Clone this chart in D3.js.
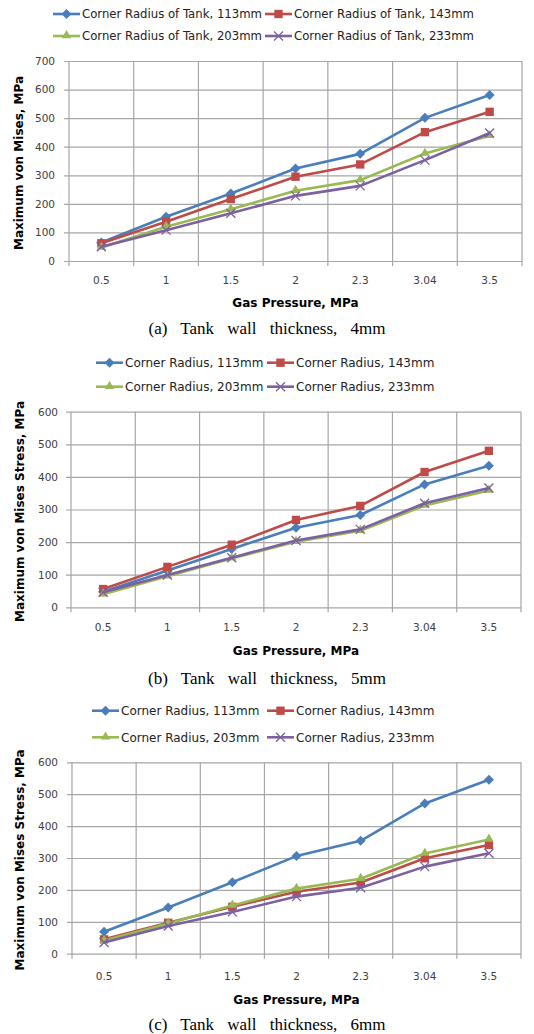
<!DOCTYPE html>
<html>
<head>
<meta charset="utf-8">
<script src="https://cdn.jsdelivr.net/npm/d3@7"></script>
<style>
body { margin: 0; background: #fff; }
svg { display: block; }
</style>
</head>
<body>
<svg></svg>
<script>
// categories
let pressures = ['0.5', '1', '1.5', '2', '2.3', '3.04', '3.5']

// (a) wall 4mm
let t4_r113 = [65, 155, 236, 324, 375, 501, 581]
let t4_r143 = [62, 137, 217, 295, 338, 451, 522]
let t4_r203 = [47, 120, 181, 246, 283, 376, 438]
let t4_r233 = [50, 108, 167, 228, 263, 353, 448]

// (b) wall 5mm
let t5_r113 = [48, 113, 179, 244, 283, 377, 434]
let t5_r143 = [56, 124, 192, 268, 311, 415, 480]
let t5_r203 = [40, 95, 150, 201, 235, 312, 358]
let t5_r233 = [46, 99, 152, 205, 239, 319, 366]

// (c) wall 6mm
let t6_r113 = [69, 145, 224, 306, 354, 471, 545]
let t6_r143 = [45, 97, 147, 194, 223, 299, 341]
let t6_r203 = [41, 95, 151, 204, 235, 314, 358]
let t6_r233 = [35, 87, 131, 179, 207, 273, 315]

let legendA = ['Corner Radius of Tank, 113mm', 'Corner Radius of Tank, 143mm', 'Corner Radius of Tank, 203mm', 'Corner Radius of Tank, 233mm']
let legendBC = ['Corner Radius, 113mm', 'Corner Radius, 143mm', 'Corner Radius, 203mm', 'Corner Radius, 233mm']
let yTitles = ['Maximum von Mises, MPa', 'Maximum von Mises Stress, MPa', 'Maximum von Mises Stress, MPa']
let xTitle = 'Gas Pressure, MPa'
let captions = ['(a) Tank wall thickness, 4mm', '(b) Tank wall thickness, 5mm', '(c) Tank wall thickness, 6mm']

let colors = ['#4a7ebb', '#be4b48', '#98b954', '#7d60a0']
let markers = ['diamond', 'square', 'triangle', 'times']

let width = 534
let height = 1034
let svg = d3.select('svg').attr('width', width).attr('height', height)
let font = "'DejaVu Sans', sans-serif"

let panels = [
    {series: [t4_r113, t4_r143, t4_r203, t4_r233], legend: legendA, yMax: 700,
     left: 69, right: 522, top: 61, bottom: 261, yPad: 14,
     legRows: [14, 36], legCols: [53, 265], legFont: 11.7,
     tickY: 280, xTitleY: 303, capY: 328, yTitleX: 19},
    {series: [t5_r113, t5_r143, t5_r203, t5_r233], legend: legendBC, yMax: 600,
     left: 71, right: 521, top: 411.7, bottom: 607.3, yPad: 13,
     legRows: [362.7, 386.7], legCols: [96, 267], legFont: 12,
     tickY: 627, xTitleY: 651, capY: 678, yTitleX: 20},
    {series: [t6_r113, t6_r143, t6_r203, t6_r233], legend: legendBC, yMax: 600,
     left: 72, right: 521, top: 762.3, bottom: 953.7, yPad: 14,
     legRows: [710.7, 737.3], legCols: [92, 267], legFont: 12,
     tickY: 976, xTitleY: 1000, capY: 1024, yTitleX: 20}
]

let drawMarker = (g, type, color, x, y) => {
    if (type == 'diamond') {
        return g.append('path').attr('d', d3.symbol(d3.symbolSquare, 50)())
            .attr('transform', 'translate(' + x + ',' + y + ') rotate(45)')
            .attr('fill', color)
    }
    if (type == 'square') {
        return g.append('path').attr('d', d3.symbol(d3.symbolSquare, 70)())
            .attr('transform', 'translate(' + x + ',' + y + ')')
            .attr('fill', color)
    }
    if (type == 'triangle') {
        return g.append('path').attr('d', d3.symbol(d3.symbolTriangle, 38)())
            .attr('transform', 'translate(' + x + ',' + (y - 0.5) + ')')
            .attr('fill', color)
    }
    // plain X made of two strokes
    let r = 4.5
    return g.append('path')
        .attr('d', 'M' + (-r) + ',' + (-r) + 'L' + r + ',' + r + 'M' + (-r) + ',' + r + 'L' + r + ',' + (-r))
        .attr('transform', 'translate(' + x + ',' + y + ')')
        .attr('fill', 'none')
        .attr('stroke', color)
        .attr('stroke-width', 1.3)
}

let drawPanel = (p, idx) => {
    let g = svg.append('g')
    let xScale = d3.scaleBand().domain(pressures).range([p.left, p.right])
    let yScale = d3.scaleLinear().domain([0, p.yMax]).range([p.bottom, p.top])
    let plotW = p.right - p.left

    // y axis with gridlines
    let yAxis = d3.axisLeft(yScale)
        .tickValues(d3.range(0, p.yMax + 1, 100))
        .tickSizeInner(-plotW)
        .tickSizeOuter(0)
        .tickPadding(p.yPad)
    let yg = g.append('g')
        .attr('transform', 'translate(' + p.left + ',0)')
        .call(yAxis)
    yg.select('.domain').remove()
    yg.selectAll('.tick line').attr('x1', -5).attr('stroke', '#a6a6a6').attr('stroke-width', 1.2)
    yg.selectAll('.tick text').attr('fill', '#404040').style('font-family', font).style('font-size', '10.5px')

    // vertical gridlines at category boundaries
    let bounds = pressures.map((d) => xScale(d)).concat([p.right])
    g.selectAll('.vgrid')
        .data(bounds)
        .enter()
        .append('line')
        .attr('class', 'vgrid')
        .attr('x1', (d) => d)
        .attr('x2', (d) => d)
        .attr('y1', p.top)
        .attr('y2', p.bottom + 5)
        .attr('stroke', '#a6a6a6')
        .attr('stroke-width', 1.2)

    // x labels
    let xAxis = d3.axisBottom(xScale).tickSize(0).tickPadding(p.tickY - p.bottom - 3.7)
    let xg = g.append('g')
        .attr('transform', 'translate(0,' + p.bottom + ')')
        .call(xAxis)
    xg.select('.domain').remove()
    xg.selectAll('.tick text').attr('fill', '#404040').style('font-family', font).style('font-size', '10.5px')

    // series lines + markers
    p.series.forEach((values, i) => {
        let line = d3.line()
            .x((d, j) => xScale(pressures[j]) + xScale.bandwidth() / 2)
            .y((d) => yScale(d))
        let sg = g.append('g')
        sg.append('path')
            .attr('d', line(values))
            .attr('fill', 'none')
            .attr('stroke', colors[i])
            .attr('stroke-width', 2.6)
            .attr('stroke-linejoin', 'round')
        values.forEach((v, j) => {
            drawMarker(sg, markers[i], colors[i], xScale(pressures[j]) + xScale.bandwidth() / 2, yScale(v))
        })
    })

    // legend
    p.legend.forEach((label, i) => {
        let lx = p.legCols[i % 2]
        let ly = p.legRows[Math.floor(i / 2)]
        g.append('line')
            .attr('x1', lx).attr('x2', lx + 27)
            .attr('y1', ly).attr('y2', ly)
            .attr('stroke', colors[i])
            .attr('stroke-width', 2.6)
        drawMarker(g, markers[i], colors[i], lx + 13.5, ly)
        g.append('text')
            .attr('x', lx + 29)
            .attr('y', ly)
            .attr('dy', '0.35em')
            .attr('fill', '#222')
            .style('font-family', font)
            .style('font-size', p.legFont + 'px')
            .text(label)
    })

    // axis titles
    g.append('text')
        .attr('x', (p.left + p.right) / 2)
        .attr('y', p.xTitleY)
        .attr('dy', '0.35em')
        .attr('text-anchor', 'middle')
        .style('font-family', font)
        .style('font-size', '12px')
        .style('font-weight', 'bold')
        .text(xTitle)
    g.append('text')
        .attr('transform', 'translate(' + p.yTitleX + ',' + ((p.top + p.bottom) / 2 + 2) + ') rotate(-90)')
        .attr('dy', '0.35em')
        .attr('text-anchor', 'middle')
        .style('font-family', font)
        .style('font-size', '12px')
        .style('font-weight', 'bold')
        .text(yTitles[idx])

    // caption
    g.append('text')
        .attr('x', width / 2)
        .attr('y', p.capY)
        .attr('dy', '0.35em')
        .attr('text-anchor', 'middle')
        .style('font-family', "'Liberation Serif', serif")
        .style('font-size', '17px')
        .style('word-spacing', '9px')
        .text(captions[idx])
}

panels.forEach((p, i) => drawPanel(p, i))
</script>
</body>
</html>
